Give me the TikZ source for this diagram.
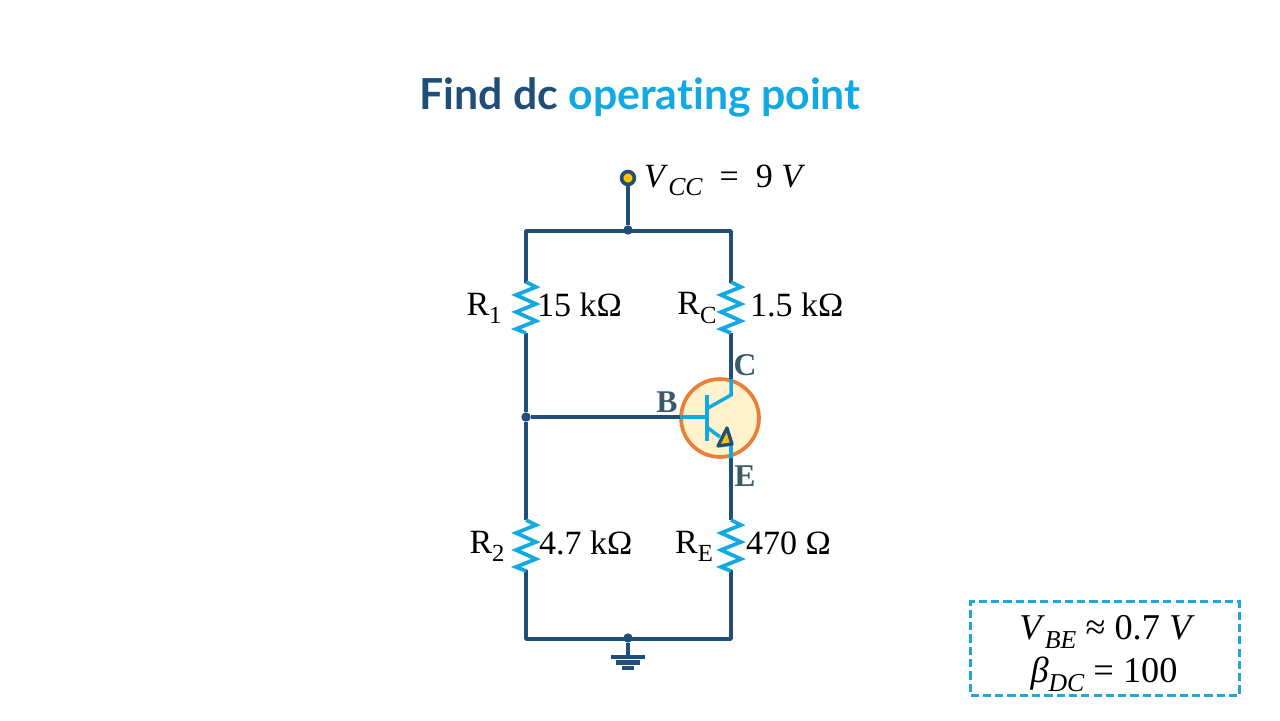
\documentclass[tikz,border=0pt]{standalone}
\usepackage{fontspec}
\setmainfont{Liberation Serif}
\newfontfamily\titlefont[Ligatures=NoCommon]{Lato}
\definecolor{wire}{HTML}{1F4E79}
\definecolor{cyanw}{HTML}{12A9E2}
\definecolor{amber}{HTML}{FFC000}
\definecolor{ringc}{HTML}{E8803C}
\definecolor{ringf}{HTML}{FFF2CC}
\definecolor{pinc}{HTML}{3A5A6C}
\definecolor{boxc}{HTML}{1FA7D6}
\tikzset{
  wirel/.style={draw=wire,line width=3.1pt},
  cyanl/.style={draw=cyanw,line width=3pt},
  rzig/.style={draw=cyanw,line width=3.2pt,line join=miter},
  junction/.style={circle,fill=wire,inner sep=0pt,minimum size=8pt},
  lbl/.style={font=\fontsize{29}{31}\selectfont,inner sep=0pt},
  boxl/.style={font=\fontsize{31}{33}\selectfont,inner sep=0pt},
  pin/.style={font=\fontsize{27}{29}\selectfont\bfseries,text=pinc,inner sep=0pt},
  gnd/.style={fill=wire,inner sep=0pt,minimum height=3.6pt}
}
\newcommand{\rzag}[1]{\draw[rzig] (#1) -- ++(10,5) -- ++(-20,8) -- ++(20,9) -- ++(-20,8) -- ++(20,9) -- ++(-20,8) -- ++(10,4);}
\newcommand{\lowr}[1]{\raisebox{-0.24em}{\fontsize{21}{21}\selectfont #1}}
\newcommand{\lowi}[1]{\raisebox{-0.24em}{\fontsize{22}{22}\selectfont\itshape #1}}
\begin{document}
\begin{tikzpicture}[x=0.03cm,y=-0.03cm]
\useasboundingbox (0,0) rectangle (1280,720);
\node[inner sep=0pt,font=\titlefont\fontsize{36.5}{40}\selectfont\bfseries] (title) at (640,97) {\textcolor{wire}{Find dc} \textcolor{cyanw}{operating point}};
\node[circle,draw=wire,fill=amber,line width=3.1pt,inner sep=0pt,minimum size=11pt] (vcc) at (628,178) {};
\node[lbl,anchor=west] (vcclab) at (644,180) {\textit{V}\lowi{CC}\ \ =\ \ 9 \textit{V}};
\node[junction] (top) at (628,230) {};
\coordinate (tl) at (526,231);
\coordinate (tr) at (731,231);
\coordinate (r1a) at (526,282);
\coordinate (r1b) at (526,333);
\coordinate (rca) at (731,282);
\coordinate (rcb) at (731,333);
\coordinate (r2a) at (526,520);
\coordinate (r2b) at (526,571);
\coordinate (rea) at (731,520);
\coordinate (reb) at (731,571);
\coordinate (bl) at (526,639);
\coordinate (br) at (731,639);
\node[junction] (mid) at (526,417) {};
\node[junction] (bot) at (628,638) {};
% transistor
\node[circle,draw=ringc,fill=ringf,line width=3.2pt,inner sep=0pt,minimum size=66.5pt] (q) at (720,418) {};
\coordinate (qb) at (707,417);
\coordinate (qc) at (731,395);
\coordinate (qe) at (731,444);
\coordinate (bartop) at (707,395);
\coordinate (barbot) at (707,441);
\coordinate (qcb) at (708,408);
\coordinate (qeb) at (708,428);
\coordinate (qarrow) at (720,437);
\coordinate (qctop) at (731,379);
\coordinate (qebot) at (731,458);
\coordinate (qbl) at (680,417);
\draw[wirel] (vcc) -- (top);
\draw[wirel,line cap=round,line join=round] (r1a) -- (tl) -- (tr) -- (rca);
\draw[wirel] (r1b) -- (mid);
\draw[wirel] (mid) -- (r2a);
\draw[wirel] (mid) -- (qbl);
\draw[wirel] (rcb) -- (qctop);
\draw[wirel] (qebot) -- (rea);
\draw[wirel,line cap=round,line join=round] (r2b) -- (bl) -- (br) -- (reb);
\draw[cyanl] (qbl) -- (qb);
\draw[cyanl] (bartop) -- (barbot);
\draw[cyanl] (qcb) -- (qc) -- (qctop);
\draw[cyanl] (qeb) -- (qarrow);
\draw[cyanl] (qe) -- (qebot);
\draw[draw=wire,fill=amber,line width=2.8pt,line join=round] (727,428) -- (732,444) -- (718,446) -- cycle;
\rzag{r1a}
\rzag{rca}
\rzag{r2a}
\rzag{rea}
% ground
\node[gnd,minimum width=29pt] (g1) at (628,657) {};
\node[gnd,minimum width=20pt] (g2) at (628,662.5) {};
\node[gnd,minimum width=10pt] (g3) at (628,668) {};
\draw[wirel] (bot) -- (g1);
% labels
\node[lbl] (r1lab) at (484,308) {R\lowr{1}};
\node[lbl,anchor=west] (r1val) at (537,305) {15 kΩ};
\node[lbl] (rclab) at (697,308) {R\lowr{C}};
\node[lbl,anchor=west] (rcval) at (750,305) {1.5 kΩ};
\node[lbl] (r2lab) at (487,546) {R\lowr{2}};
\node[lbl,anchor=west] (r2val) at (539,543) {4.7 kΩ};
\node[lbl] (relab) at (694,546) {R\lowr{E}};
\node[lbl,anchor=west] (reval) at (746,543) {470 Ω};
\node[pin] (blab) at (667,402) {B};
\node[pin] (clab) at (745,365) {C};
\node[pin] (elab) at (745,476) {E};
% given values
\node[draw=boxc,dash pattern=on 7pt off 3.5pt,line width=2.4pt,minimum width=229.5pt,minimum height=80pt,inner sep=0pt] (given) at (1105,648.5) {};
\node[boxl] (vbe) at (1107,632) {\textit{V}\lowi{BE}\ ≈ 0.7\ \textit{V}};
\node[boxl] (beta) at (1104,674) {\textit{β}\lowi{DC}\ = 100};
\end{tikzpicture}
\end{document}
